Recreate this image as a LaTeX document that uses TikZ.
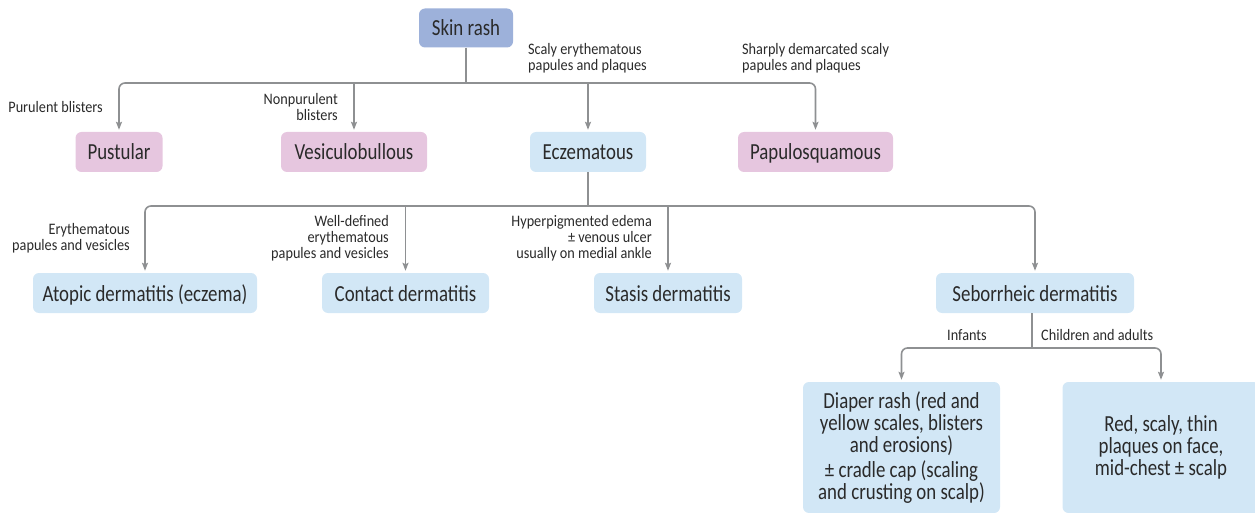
\documentclass[tikz,border=0pt]{standalone}
\usepackage{fontspec}
\setmainfont{Carlito}[FakeStretch=0.82]
\newfontfamily\notefont{Carlito}[FakeStretch=0.89]
\usetikzlibrary{arrows.meta}

\definecolor{rootfill}{HTML}{9DB1DA}
\definecolor{pinkfill}{HTML}{E6C6DF}
\definecolor{bluefill}{HTML}{D2E7F6}
\definecolor{linkgray}{HTML}{8E9092}
\definecolor{inkgray}{HTML}{2A2A2A}

\tikzset{
  box/.style={rounded corners=6pt, inner sep=0pt, text=inkgray,
    font=\fontsize{23}{22}\selectfont, align=center},
  oneline/.style={text height=17pt, text depth=1pt},
  rootbox/.style={box, oneline, fill=rootfill, minimum height=39pt},
  pinkbox/.style={box, oneline, fill=pinkfill, minimum height=40pt},
  bluebox/.style={box, oneline, fill=bluefill, minimum height=40pt},
  tallbox/.style={box, fill=bluefill, minimum height=131pt, minimum width=197pt},
  note/.style={inner sep=0pt, text=inkgray, font=\notefont\fontsize{16}{16}\selectfont},
  link/.style={draw=linkgray, line width=1.6pt},
  arrowlink/.style={link, -{Stealth[length=8pt,width=6pt,inset=1.5pt]}, shorten >=2pt},
}

\begin{document}
\begin{tikzpicture}[x=1pt,y=-1pt]
\useasboundingbox (0,0) rectangle (1255,513);

% root
\node[rootbox, minimum width=94pt] (rash) at (466,28) {Skin rash};

% first level
\node[pinkbox, minimum width=87pt]  (pust) at (119,152)   {Pustular};
\node[pinkbox, minimum width=146pt] (vesi) at (354,152)   {Vesiculobullous};
\node[bluebox, minimum width=116pt] (ecze) at (588,152)   {Eczematous};
\node[pinkbox, minimum width=155pt] (papu) at (815.5,152) {Papulosquamous};

% second level
\node[bluebox, minimum width=224pt] (atop) at (145,293)   {Atopic dermatitis (eczema)};
\node[bluebox, minimum width=167pt] (cont) at (405.5,293) {Contact dermatitis};
\node[bluebox, minimum width=148pt] (stas) at (668,293)   {Stasis dermatitis};
\node[bluebox, minimum width=198pt] (sebo) at (1035,293)  {Seborrheic dermatitis};

% third level
\node[tallbox] (diap) at (901.5,447.5) {Diaper rash (red and\\yellow scales, blisters\\and erosions)\\[3pt]± cradle cap (scaling\\and crusting on scalp)};
\node[tallbox] (redp) at (1161,447.5) {Red, scaly, thin\\plaques on face,\\mid-chest ± scalp};

% branch points
\coordinate (bus1) at (466,83);
\coordinate (bus2) at (588,206);
\coordinate (bus3) at (1032,348);

% skin rash -> morphology groups
\draw[link] (rash.south) -- (bus1);
\draw[arrowlink, rounded corners=6pt] (bus1) -| (pust.north);
\draw[arrowlink, rounded corners=6pt] (bus1) -| (papu.north);
\draw[arrowlink] (vesi.north |- bus1) -- (vesi.north);
\draw[arrowlink] (ecze.north |- bus1) -- (ecze.north);

% eczematous -> dermatitis types
\draw[link] (ecze.south) -- (bus2);
\draw[arrowlink, rounded corners=6pt] (bus2) -| (atop.north);
\draw[arrowlink, rounded corners=6pt] (bus2) -| (sebo.north);
\draw[arrowlink] (cont.north |- bus2) -- (cont.north);
\draw[arrowlink] (stas.north |- bus2) -- (stas.north);

% seborrheic -> age groups
\draw[link] (sebo.south -| bus3) -- (bus3);
\draw[arrowlink, rounded corners=6pt] (bus3) -| (diap.north);
\draw[arrowlink, rounded corners=6pt] (bus3) -| (redp.north);

% branch labels
\node[note, anchor=east]  (l1) at (103,107) {Purulent blisters};
\node[note, anchor=east, align=right] (l2) at (338,107) {Nonpurulent\\blisters};
\node[note, anchor=west, align=left]  (l3) at (528,58) {Scaly erythematous\\papules and plaques};
\node[note, anchor=west, align=left]  (l4) at (742,58) {Sharply demarcated scaly\\papules and plaques};
\node[note, anchor=east, align=right] (l5) at (130,238) {Erythematous\\papules and vesicles};
\node[note, anchor=east, align=right] (l6) at (389,238) {Well-defined\\erythematous\\papules and vesicles};
\node[note, anchor=east, align=right] (l7) at (652,238) {Hyperpigmented edema\\± venous ulcer\\usually on medial ankle};
\node[note, anchor=east]  (l8) at (987,335) {Infants};
\node[note, anchor=west]  (l9) at (1041,335) {Children and adults};
\end{tikzpicture}
\end{document}
